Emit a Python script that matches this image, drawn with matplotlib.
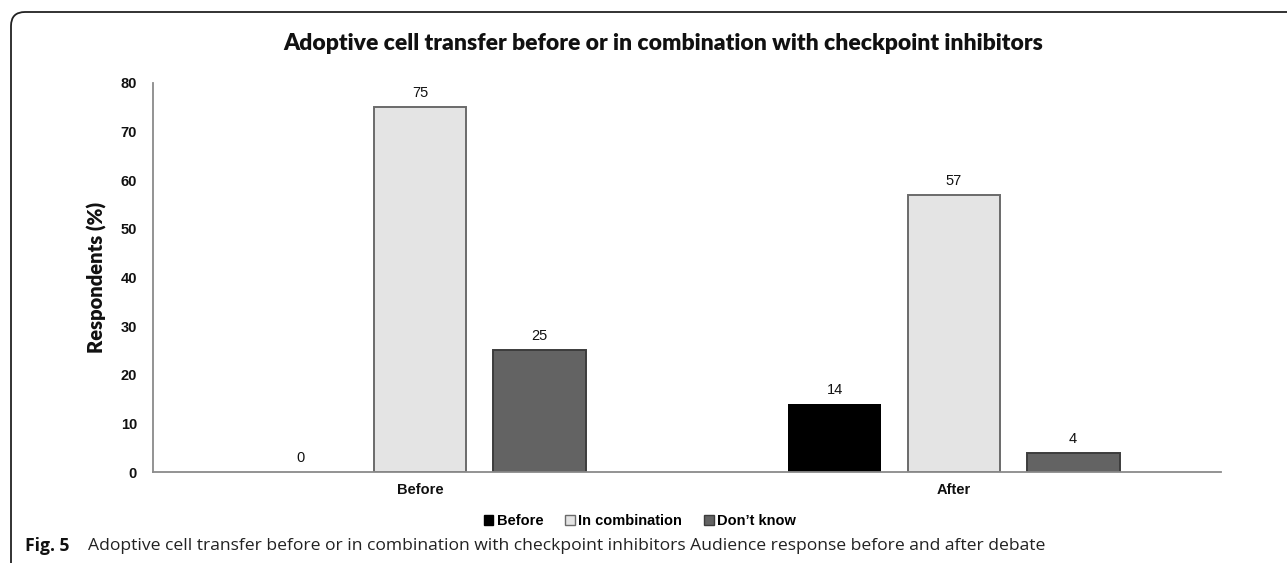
import matplotlib
matplotlib.use("Agg")
import matplotlib.pyplot as plt
import numpy as np
from matplotlib.path import Path
from matplotlib.patches import PathPatch, Patch

# Survey results (percent of respondents)
groups = ["Before", "After"]
series = ["Before", "In combination", "Don\u2019t know"]
before_vals = [0, 14]
combination_vals = [75, 57]
dont_know_vals = [25, 4]
y_ticks = [0, 10, 20, 30, 40, 50, 60, 70, 80]

title = "Adoptive cell transfer before or in combination with checkpoint inhibitors"
caption_bold = "Fig. 5"
caption_text = ("Adoptive cell transfer before or in combination with checkpoint "
                "inhibitors Audience response before and after debate")

W, H = 1287, 565
fig = plt.figure(figsize=(W / 100, H / 100), dpi=100)
fig.patch.set_facecolor("white")


def fx(px):
    return px / W


def fy(py):
    return 1 - py / H


ax = fig.add_axes([fx(153), fy(472), fx(1221) - fx(153), fy(83) - fy(472)])

fills = ["#000000", "#e4e4e4", "#636363"]
edges = ["#000000", "#6a6a6a", "#3c3c3c"]
line_widths = [0.0, 1.4, 1.4]
values = [before_vals, combination_vals, dont_know_vals]
x = np.arange(len(groups))
width = 0.174
step = 0.223

for i, (vals, fc, ec, lw) in enumerate(zip(values, fills, edges, line_widths)):
    pos = x + (i - 1) * step
    bars = ax.bar(pos, vals, width, color=fc, edgecolor=ec, linewidth=lw,
                  label=series[i], zorder=3)
    for b, v in zip(bars, vals):
        ax.annotate(str(v), (b.get_x() + b.get_width() / 2, v),
                    xytext=(0, 5), textcoords="offset points",
                    ha="center", va="bottom", fontsize=10.5,
                    family="Liberation Sans", color="#111111")

ax.set_xlim(-0.5, 1.5)
ax.set_ylim(0, 80)
ax.set_yticks(y_ticks)
ax.set_xticks(x)
ax.set_xticklabels(groups)

for lab in ax.get_yticklabels() + ax.get_xticklabels():
    lab.set_family("Liberation Sans")
    lab.set_fontweight("bold")
    lab.set_fontsize(10.5)
    lab.set_color("#111111")

ax.tick_params(axis="y", length=0, pad=11.5)
ax.tick_params(axis="x", length=0, pad=8)

for side in ["top", "right"]:
    ax.spines[side].set_visible(False)
for side in ["left", "bottom"]:
    ax.spines[side].set_color("#8a8a8a")
    ax.spines[side].set_linewidth(1.3)
    ax.spines[side].set_zorder(4)

ax.set_ylabel("Respondents (%)", family="Lato", fontweight="heavy",
              fontsize=14.5, color="#111111", labelpad=10)

# Title
fig.text(fx(663), fy(43), title, ha="center", va="center",
         family="Lato", fontweight="heavy", fontsize=16.5, color="#111111")

# Legend
handles = [Patch(facecolor=fc, edgecolor=ec, linewidth=1.0)
           for fc, ec in zip(fills, edges)]
leg = fig.legend(handles, series, loc="center", bbox_to_anchor=(fx(640), fy(521)),
                 ncol=3, frameon=False, handlelength=0.65, handleheight=0.65,
                 handletextpad=0.25, columnspacing=1.5,
                 prop={"family": "Liberation Sans", "weight": "bold", "size": 10.5})

# Caption
fig.text(fx(25), fy(546), caption_bold, ha="left", va="center",
         family="Open Sans", fontweight="bold", fontsize=12.6, color="#111111")
fig.text(fx(88), fy(546), caption_text, ha="left", va="center",
         family="Open Sans", fontsize=12.6, color="#222222")

# Panel border: left edge and top edge with a rounded corner
verts = [(fx(11), fy(563)), (fx(11), fy(26)), (fx(11), fy(12)),
         (fx(25), fy(12)), (fx(1287), fy(12))]
codes = [Path.MOVETO, Path.LINETO, Path.CURVE3, Path.CURVE3, Path.LINETO]
fig.add_artist(PathPatch(Path(verts, codes), transform=fig.transFigure,
                         fill=False, edgecolor="#222222", linewidth=1.3))

fig.savefig("out.png", dpi=100)
